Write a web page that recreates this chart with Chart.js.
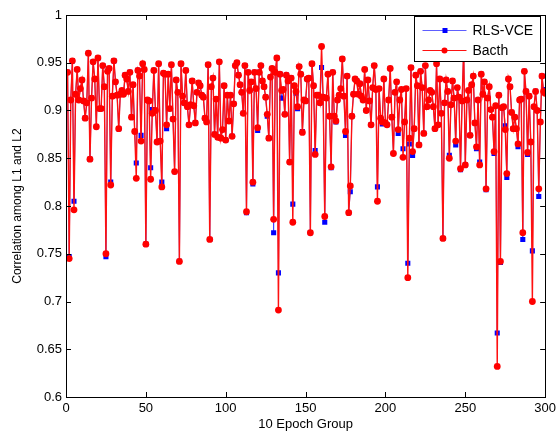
<!DOCTYPE html>
<html>
<head>
<meta charset="utf-8">
<title>RLS-VCE vs Bacth</title>
<script src="https://cdn.jsdelivr.net/npm/chart.js@4"></script>
<style>
  html, body { margin: 0; padding: 0; background: #fff; }
  #wrap { width: 560px; height: 433px; }
</style>
</head>
<body>
<div id="wrap"><canvas id="corrChart" width="560" height="433"></canvas></div>
<script>
// Correlation values per 10-epoch group (x = 1..300)
const bacth = [
  0.94, 0.745, 0.911, 0.952, 0.796, 0.917, 0.943, 0.911, 0.923, 0.932,
  0.91, 0.892, 0.908, 0.96, 0.849, 0.913, 0.951, 0.933, 0.883, 0.955,
  0.902, 0.902, 0.947, 0.925, 0.75, 0.941, 0.944, 0.822, 0.915, 0.952,
  0.93, 0.916, 0.881, 0.917, 0.921, 0.917, 0.937, 0.933, 0.92, 0.94,
  0.893, 0.927, 0.878, 0.829, 0.942, 0.936, 0.868, 0.949, 0.943, 0.76,
  0.911, 0.91, 0.828, 0.897, 0.942, 0.9, 0.867, 0.949, 0.868, 0.82,
  0.939, 0.938, 0.885, 0.938, 0.902, 0.948, 0.891, 0.836, 0.932, 0.919,
  0.742, 0.949, 0.915, 0.908, 0.942, 0.904, 0.885, 0.906, 0.931, 0.905,
  0.887, 0.919, 0.929, 0.926, 0.916, 0.914, 0.892, 0.888, 0.948, 0.765,
  0.925, 0.934, 0.875, 0.912, 0.872, 0.951, 0.871, 0.88, 0.926, 0.869,
  0.916, 0.889, 0.916, 0.873, 0.907, 0.947, 0.95, 0.937, 0.927, 0.919,
  0.897, 0.947, 0.794, 0.94, 0.921, 0.93, 0.825, 0.94, 0.923, 0.882,
  0.94, 0.947, 0.931, 0.925, 0.914, 0.896, 0.871, 0.935, 0.944, 0.786,
  0.94, 0.955, 0.691, 0.938, 0.921, 0.922, 0.896, 0.937, 0.931, 0.846,
  0.934, 0.783, 0.926, 0.92, 0.904, 0.946, 0.938, 0.877, 0.911, 0.91,
  0.933, 0.934, 0.772, 0.949, 0.926, 0.854, 0.916, 0.916, 0.908, 0.967,
  0.914, 0.789, 0.913, 0.938, 0.894, 0.841, 0.94, 0.894, 0.889, 0.911,
  0.916, 0.923, 0.954, 0.915, 0.878, 0.936, 0.793, 0.821, 0.894, 0.917,
  0.933, 0.931, 0.917, 0.928, 0.915, 0.911, 0.943, 0.9, 0.932, 0.91,
  0.885, 0.924, 0.947, 0.922, 0.805, 0.923, 0.892, 0.888, 0.933, 0.887,
  0.885, 0.911, 0.944, 0.893, 0.855, 0.919, 0.93, 0.88, 0.911, 0.922,
  0.851, 0.888, 0.923, 0.725, 0.871, 0.945, 0.857, 0.881, 0.937, 0.926,
  0.864, 0.941, 0.924, 0.876, 0.947, 0.904, 0.911, 0.921, 0.919, 0.904,
  0.881, 0.949, 0.885, 0.933, 0.897, 0.766, 0.908, 0.932, 0.92, 0.85,
  0.906, 0.931, 0.913, 0.868, 0.924, 0.914, 0.839, 0.91, 0.965, 0.843,
  0.911, 0.921, 0.874, 0.927, 0.936, 0.887, 0.862, 0.911, 0.843, 0.938,
  0.917, 0.93, 0.818, 0.913, 0.925, 0.901, 0.893, 0.857, 0.905, 0.632,
  0.916, 0.742, 0.903, 0.904, 0.88, 0.834, 0.933, 0.925, 0.898, 0.881,
  0.893, 0.881, 0.865, 0.911, 0.912, 0.772, 0.941, 0.92, 0.856, 0.915,
  0.867, 0.7, 0.904, 0.92, 0.9, 0.818, 0.888, 0.936, 0.92, 0.918
];

const rlsVce = [
  0.94, 0.747, 0.911, 0.952, 0.805, 0.917, 0.943, 0.911, 0.923, 0.932,
  0.91, 0.892, 0.908, 0.96, 0.849, 0.913, 0.951, 0.933, 0.883, 0.955,
  0.902, 0.902, 0.947, 0.925, 0.747, 0.941, 0.944, 0.825, 0.915, 0.952,
  0.93, 0.916, 0.881, 0.917, 0.921, 0.917, 0.937, 0.933, 0.92, 0.94,
  0.893, 0.927, 0.878, 0.845, 0.942, 0.936, 0.874, 0.949, 0.943, 0.76,
  0.911, 0.91, 0.84, 0.901, 0.942, 0.9, 0.867, 0.949, 0.868, 0.825,
  0.939, 0.938, 0.881, 0.938, 0.902, 0.948, 0.891, 0.836, 0.932, 0.919,
  0.742, 0.949, 0.915, 0.908, 0.942, 0.904, 0.885, 0.906, 0.931, 0.905,
  0.887, 0.919, 0.929, 0.926, 0.916, 0.914, 0.892, 0.888, 0.948, 0.765,
  0.925, 0.934, 0.875, 0.912, 0.872, 0.951, 0.871, 0.88, 0.926, 0.869,
  0.916, 0.889, 0.916, 0.873, 0.907, 0.947, 0.95, 0.937, 0.927, 0.919,
  0.897, 0.947, 0.793, 0.94, 0.921, 0.93, 0.823, 0.94, 0.923, 0.879,
  0.94, 0.947, 0.931, 0.925, 0.914, 0.894, 0.871, 0.935, 0.944, 0.772,
  0.94, 0.955, 0.73, 0.938, 0.913, 0.922, 0.896, 0.937, 0.931, 0.846,
  0.934, 0.802, 0.926, 0.918, 0.902, 0.946, 0.938, 0.878, 0.911, 0.91,
  0.933, 0.934, 0.772, 0.949, 0.926, 0.858, 0.916, 0.916, 0.908, 0.945,
  0.914, 0.783, 0.913, 0.938, 0.894, 0.84, 0.94, 0.894, 0.888, 0.911,
  0.916, 0.923, 0.954, 0.915, 0.874, 0.936, 0.793, 0.815, 0.894, 0.917,
  0.933, 0.931, 0.917, 0.928, 0.915, 0.911, 0.943, 0.9, 0.932, 0.91,
  0.885, 0.924, 0.947, 0.922, 0.82, 0.923, 0.892, 0.886, 0.933, 0.887,
  0.885, 0.911, 0.944, 0.893, 0.855, 0.919, 0.93, 0.876, 0.911, 0.922,
  0.86, 0.888, 0.923, 0.74, 0.865, 0.945, 0.853, 0.881, 0.937, 0.926,
  0.864, 0.941, 0.924, 0.876, 0.947, 0.904, 0.911, 0.921, 0.919, 0.904,
  0.881, 0.949, 0.885, 0.933, 0.897, 0.766, 0.908, 0.932, 0.92, 0.853,
  0.906, 0.931, 0.913, 0.864, 0.924, 0.914, 0.838, 0.91, 0.965, 0.843,
  0.911, 0.921, 0.874, 0.927, 0.936, 0.887, 0.86, 0.911, 0.846, 0.938,
  0.917, 0.93, 0.817, 0.913, 0.925, 0.901, 0.893, 0.855, 0.905, 0.667,
  0.916, 0.741, 0.903, 0.904, 0.884, 0.83, 0.933, 0.925, 0.898, 0.881,
  0.893, 0.881, 0.862, 0.911, 0.912, 0.765, 0.941, 0.92, 0.854, 0.915,
  0.867, 0.753, 0.904, 0.92, 0.9, 0.81, 0.888, 0.936, 0.922, 0.918
];

const xTicks = [0, 50, 100, 150, 200, 250, 300];
const yTicks = [0.6, 0.65, 0.7, 0.75, 0.8, 0.85, 0.9, 0.95, 1];
const seriesNames = ['RLS-VCE', 'Bacth'];

const FONT = 'Arial, "Liberation Sans", Helvetica, sans-serif';

function toPoints(arr) {
    return arr.map(function (v, i) { return { x: i + 1, y: v }; });
}

// MATLAB-like box, inward ticks on all four sides
const boxPlugin = {
    id: 'matlabBox',
    afterDatasetsDraw(chart) {
        const { ctx, chartArea: a, scales } = chart;
        const len = 5;
        ctx.save();
        ctx.strokeStyle = '#000';
        ctx.lineWidth = 1;
        ctx.beginPath();
        xTicks.forEach(function (t) {
            const px = Math.round(scales.x.getPixelForValue(t)) + 0.5;
            ctx.moveTo(px, a.bottom); ctx.lineTo(px, a.bottom - len);
            ctx.moveTo(px, a.top); ctx.lineTo(px, a.top + len);
        });
        yTicks.forEach(function (t) {
            const py = Math.round(scales.y.getPixelForValue(t)) + 0.5;
            ctx.moveTo(a.left, py); ctx.lineTo(a.left + len, py);
            ctx.moveTo(a.right, py); ctx.lineTo(a.right - len, py);
        });
        ctx.stroke();
        ctx.strokeRect(Math.round(a.left) + 0.5, Math.round(a.top) + 0.5,
            Math.round(a.right - a.left), Math.round(a.bottom - a.top));
        ctx.restore();
    }
};

// legend box inside the top right corner of the axes
const legendPlugin = {
    id: 'boxLegend',
    afterDraw(chart) {
        const { ctx, chartArea: a } = chart;
        const w = 126, h = 45;
        const x0 = Math.round(a.right) - w - 4.5, y0 = Math.round(a.top) + 1.5;
        ctx.save();
        ctx.fillStyle = '#fff';
        ctx.fillRect(x0, y0, w, h);
        ctx.strokeStyle = '#000';
        ctx.lineWidth = 1;
        ctx.strokeRect(x0, y0, w, h);
        chart.data.datasets.forEach(function (ds, i) {
            const y = y0 + 14 + i * 20;
            ctx.strokeStyle = ds.borderColor;
            ctx.lineWidth = 1;
            ctx.beginPath();
            ctx.moveTo(x0 + 8, y); ctx.lineTo(x0 + 52, y);
            ctx.stroke();
            ctx.fillStyle = ds.pointBackgroundColor;
            if (ds.pointStyle === 'rect') {
                ctx.fillRect(x0 + 28, y - 2.5, 5, 5);
            } else {
                ctx.beginPath();
                ctx.arc(x0 + 30, y, 3, 0, Math.PI * 2);
                ctx.fill();
            }
            ctx.fillStyle = '#000';
            ctx.font = '14px ' + FONT;
            ctx.textBaseline = 'middle';
            ctx.fillText(seriesNames[i], x0 + 58, y + 1);
        });
        ctx.restore();
    }
};

const ctx = document.getElementById('corrChart').getContext('2d');

const corrChart = new Chart(ctx, {
    type: 'line',
    data: {
        datasets: [
            {
                label: seriesNames[0],
                data: toPoints(rlsVce),
                borderColor: 'rgba(40, 40, 255, 0.75)',
                backgroundColor: '#0000ff',
                pointBackgroundColor: '#0000ff',
                pointBorderColor: '#0000ff',
                pointStyle: 'rect',
                pointRadius: 3.6,
                pointBorderWidth: 0,
                borderWidth: 1,
                tension: 0,
                order: 1
            },
            {
                label: seriesNames[1],
                data: toPoints(bacth),
                borderColor: '#ff1010',
                backgroundColor: '#ff0000',
                pointBackgroundColor: '#ff0000',
                pointBorderColor: '#ff0000',
                pointStyle: 'circle',
                pointRadius: 3.4,
                pointBorderWidth: 0,
                borderWidth: 1.4,
                tension: 0,
                order: 0
            }
        ]
    },
    options: {
        responsive: false,
        animation: false,
        layout: { padding: { top: 15, right: 13, left: 0, bottom: 0 } },
        plugins: {
            legend: { display: false },
            tooltip: { enabled: false }
        },
        scales: {
            x: {
                type: 'linear',
                min: 0,
                max: 300,
                afterBuildTicks: function (scale) {
                    scale.ticks = xTicks.map(function (v) { return { value: v }; });
                },
                afterFit: function (scale) { scale.height = 36; },
                grid: { display: false, drawTicks: false },
                border: { display: false },
                ticks: {
                    color: '#000',
                    padding: 4,
                    maxRotation: 0,
                    font: { family: FONT, size: 13 }
                },
                title: {
                    display: true,
                    text: '10 Epoch Group',
                    color: '#000',
                    padding: { top: 0, bottom: 1 },
                    font: { family: FONT, size: 13 }
                }
            },
            y: {
                min: 0.6,
                max: 1,
                afterBuildTicks: function (scale) {
                    scale.ticks = yTicks.map(function (v) { return { value: v }; });
                },
                afterFit: function (scale) { scale.width = 66; },
                grid: { display: false, drawTicks: false },
                border: { display: false },
                ticks: {
                    color: '#000',
                    padding: 4,
                    font: { family: FONT, size: 13 },
                    callback: function (v) { return String(Number(v.toFixed(2))); }
                },
                title: {
                    display: true,
                    text: 'Correlation among L1 and L2',
                    color: '#000',
                    padding: { top: 10, bottom: 0 },
                    font: { family: FONT, size: 12 }
                }
            }
        }
    },
    plugins: [boxPlugin, legendPlugin]
});
</script>
</body>
</html>
